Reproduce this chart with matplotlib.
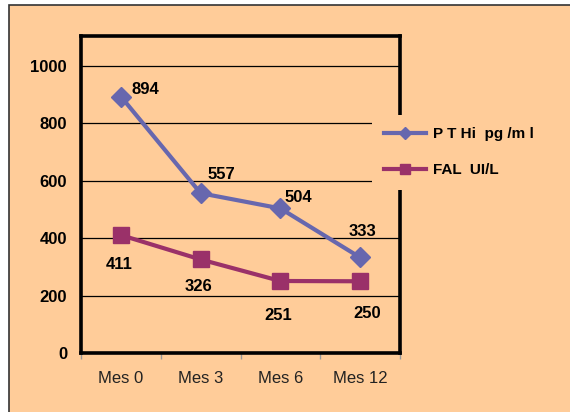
import matplotlib
matplotlib.use("Agg")
import matplotlib.pyplot as plt
from matplotlib.patches import Rectangle

categories = ["Mes 0", "Mes 3", "Mes 6", "Mes 12"]
pthi = [894, 557, 504, 333]
fal = [411, 326, 251, 250]
yticks = [0, 200, 400, 600, 800, 1000]
series_names = ["P T Hi  pg /m l", "FAL  UI/L"]

BG = "#FFCC99"
BLUE = "#6767AE"
MAG = "#9A3169"

plt.rcParams['font.family'] = ['Liberation Sans', 'DejaVu Sans']

fig = plt.figure(figsize=(5.7, 4.12), dpi=100)
fig.patch.set_facecolor("white")
# peach background with thin dark border (left/top)
fig.patches.append(Rectangle((9/570, -0.1), 1, 1.1 - 5/412, transform=fig.transFigure,
                             facecolor=BG, edgecolor="#333333", lw=1.2, zorder=-5))

ax = fig.add_axes([81/570, 59/412, 319/570, 317/412])
ax.set_facecolor(BG)
x = list(range(len(categories)))

for v in yticks[1:]:
    ax.axhline(v, color="black", lw=0.9, zorder=1)

ax.plot(x, pthi, color=BLUE, lw=3, marker="D", ms=10, mfc=BLUE, mec=BLUE, zorder=3,
        label=series_names[0])
ax.plot(x, fal, color=MAG, lw=3, marker="s", ms=11.5, mfc=MAG, mec=MAG, zorder=3,
        label=series_names[1])

p_off = [(17.3, 5), (15, 13.7), (13, 8), (2, 19)]
f_off = [(-1.4, -21), (-1.4, -19.5), (-1.4, -25), (5, -23)]
for i, v in enumerate(pthi):
    ax.annotate(str(v), (x[i], v), xytext=p_off[i], textcoords="offset points",
                ha="center", va="center", fontsize=12, fontweight="bold", zorder=4)
for i, v in enumerate(fal):
    ax.annotate(str(v), (x[i], v), xytext=f_off[i], textcoords="offset points",
                ha="center", va="center", fontsize=12, fontweight="bold", zorder=4)

ax.set_xlim(-0.5, 3.5)
ax.set_ylim(0, 1105)
ax.set_yticks(yticks)
ax.set_yticklabels([str(v) for v in yticks], fontsize=12, fontweight="bold")
ax.tick_params(axis="y", length=0, pad=10)
ax.set_xticks(x)
ax.set_xticklabels(categories, fontsize=12, color="#222222")
ax.tick_params(axis="x", length=0, pad=13)
ax.set_xticks([-0.5, 0.5, 1.5, 2.5, 3.5], minor=True)
ax.tick_params(axis="x", which="minor", length=4, color="#999999", width=1)

for s in ax.spines.values():
    s.set_linewidth(2.6)
    s.set_color("black")

leg = ax.legend(loc="upper left", bbox_to_anchor=(372/570, 1-115/412),
                bbox_transform=fig.transFigure, frameon=True, facecolor=BG,
                edgecolor="none", framealpha=1, fancybox=False, fontsize=11,
                handlelength=2.75, borderpad=0.8, labelspacing=1.45,
                borderaxespad=0, handletextpad=0.45)
for t in leg.get_texts():
    t.set_fontweight("bold")
leg.set_zorder(10)
for h in leg.legend_handles:
    h.set_markersize(6.5)

fig.savefig("out.png", dpi=100, facecolor=fig.get_facecolor())
